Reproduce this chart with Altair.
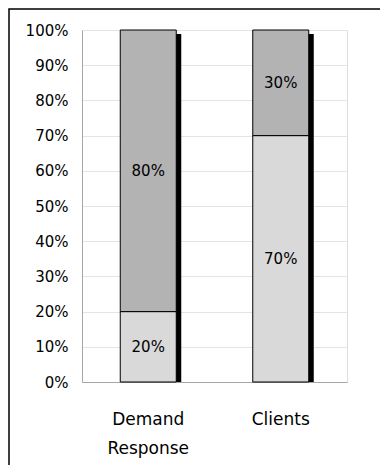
import altair as alt
import pandas as pd

categories = ["Demand Response", "Clients"]
lower_share = [20, 70]
upper_share = [80, 30]
y_ticks = [0, 10, 20, 30, 40, 50, 60, 70, 80, 90, 100]

rows = []
for c, lo, up in zip(categories, lower_share, upper_share):
    rows.append({"cat": c, "seg": "lower", "start": 0, "end": lo, "label": f"{lo}%"})
    rows.append({"cat": c, "seg": "upper", "start": lo, "end": lo + up, "label": f"{up}%"})
df = pd.DataFrame(rows)
df["mid"] = (df["start"] + df["end"]) / 2

totals = pd.DataFrame({"cat": categories,
                       "total": [a + b for a, b in zip(lower_share, upper_share)]})

FONT = "DejaVu Sans"

x_axis = alt.Axis(labelAngle=0, ticks=False, domainColor="#a6a6a6",
                  labelFontSize=17, labelFont=FONT, labelColor="#000000",
                  labelPadding=29, labelLineHeight=29,
                  labelExpr="datum.label == 'Demand Response' ? ['Demand', 'Response'] : datum.label")
x_scale = alt.Scale(paddingInner=0, paddingOuter=0)
y_axis = alt.Axis(values=y_ticks, labelExpr="datum.value + '%'", ticks=False,
                  gridColor="#e4e4e4", domainColor="#a6a6a6", labelFontSize=15,
                  labelFont=FONT, labelColor="#000000", labelPadding=14,
                  labelOverlap=False)
y_scale = alt.Scale(domain=[0, 100], nice=False)

def X():
    return alt.X("cat:N", sort=categories, title=None, scale=x_scale, axis=x_axis)

def Y(field):
    return alt.Y(field, scale=y_scale, title=None, axis=y_axis)

shadow = alt.Chart(totals).mark_bar(color="#000000", size=56, xOffset=5, yOffset=4, clip=True).encode(
    x=X(),
    y=Y("total:Q"),
    y2=alt.datum(0),
)

bars = alt.Chart(df).mark_bar(size=56, stroke="#000000", strokeWidth=1).encode(
    x=X(),
    y=Y("start:Q"),
    y2="end:Q",
    color=alt.Color("seg:N", scale=alt.Scale(domain=["lower", "upper"],
                                             range=["#d9d9d9", "#b3b3b3"]), legend=None),
)

labels = alt.Chart(df).mark_text(fontSize=15, font=FONT, color="#000000").encode(
    x=X(),
    y=Y("mid:Q"),
    text="label:N",
)

frame = alt.Chart(pd.DataFrame({"k": [0]})).mark_rect(
    fill=None, stroke="#000000", strokeWidth=1.5, clip=False
).encode(x=alt.value(-73), x2=alt.value(400), y=alt.value(-21), y2=alt.value(500))

chart = alt.layer(frame, shadow, bars, labels).properties(
    width=265, height=352,
    autosize=alt.AutoSizeParams(type="none"),
    padding={"left": 82, "top": 30, "right": 33, "bottom": 83},
).configure_view(stroke=None).configure(background="#ffffff")

chart.save("out.html", embed_options={"renderer": "svg", "actions": False})
